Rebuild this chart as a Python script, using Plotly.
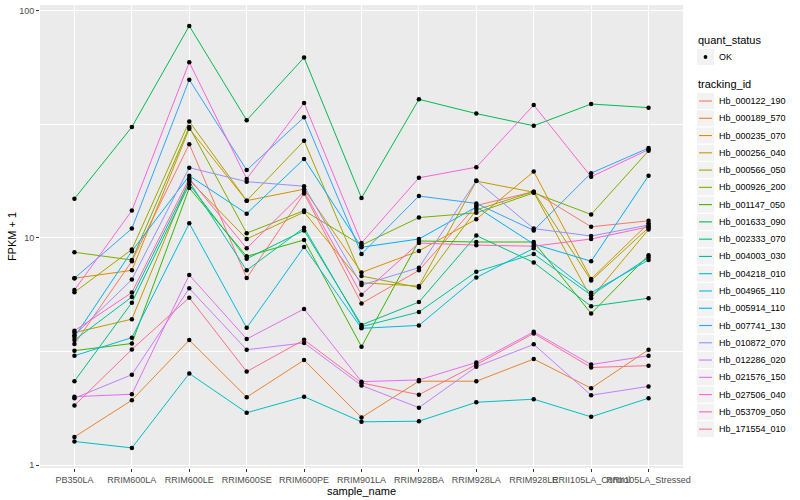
import plotly.graph_objects as go

# ---------------- data ----------------
samples = ["PB350LA", "RRIM600LA", "RRIM600LE", "RRIM600SE", "RRIM600PE",
           "RRIM901LA", "RRIM928BA", "RRIM928LA", "RRIM928LE",
           "RRII105LA_Control", "RRII105LA_Stressed"]

tracking_ids = ["Hb_000122_190", "Hb_000189_570", "Hb_000235_070", "Hb_000256_040",
                "Hb_000566_050", "Hb_000926_200", "Hb_001147_050", "Hb_001633_090",
                "Hb_002333_070", "Hb_004003_030", "Hb_004218_010", "Hb_004965_110",
                "Hb_005914_110", "Hb_007741_130", "Hb_010872_070", "Hb_012286_020",
                "Hb_021576_150", "Hb_027506_040", "Hb_053709_050", "Hb_171554_010"]

colors = ["#F8766D", "#EA8331", "#D89000", "#C09B00", "#A3A500", "#7CAE00", "#39B600",
          "#00BB4E", "#00BF7D", "#00C1A3", "#00BFC4", "#00BAE0", "#00B0F6", "#35A2FF",
          "#9590FF", "#C77CFF", "#E76BF3", "#FA62DB", "#FF62BC", "#FF6C90"]

# FPKM + 1 values, in the order of `samples`
hb_000122_190 = [3.41, 7.9, 25.9, 6.66, 15.7, 5.15, 7.2, 13.9, 16.0, 11.2, 11.9]
hb_000189_570 = [1.33, 1.93, 3.55, 1.99, 2.9, 1.62, 2.34, 2.34, 2.93, 2.18, 3.22]
hb_000235_070 = [6.65, 7.2, 30.3, 14.6, 16.4, 7.05, 8.77, 12.1, 19.6, 6.6, 11.6]
hb_000256_040 = [3.83, 4.39, 18.0, 9.9, 13.0, 6.35, 6.14, 17.8, 15.9, 5.43, 10.9]
hb_000566_050 = [5.77, 8.9, 32.6, 14.6, 26.8, 6.8, 6.05, 13.3, 16.0, 6.5, 11.1]
hb_000926_200 = [8.65, 8.0, 30.8, 10.5, 13.2, 9.3, 12.3, 12.9, 15.8, 12.7, 24.2]
hb_001147_050 = [3.19, 3.43, 16.6, 8.3, 9.8, 3.32, 9.7, 9.6, 9.6, 4.65, 8.4]
hb_001633_090 = [14.9, 30.8, 85.9, 33.0, 62.3, 15.0, 40.8, 35.3, 31.2, 38.9, 37.5]
hb_002333_070 = [2.34, 5.19, 17.2, 8.1, 10.8, 4.14, 5.22, 10.25, 7.8, 5.0, 5.43]
hb_004003_030 = [3.55, 5.5, 17.7, 7.2, 11.1, 4.07, 4.72, 7.1, 8.5, 5.6, 8.2]
hb_004218_010 = [1.27, 1.19, 2.53, 1.70, 2.0, 1.55, 1.56, 1.89, 1.95, 1.63, 1.97]
hb_004965_110 = [3.03, 3.64, 11.6, 4.02, 9.13, 4.0, 4.12, 6.7, 9.0, 5.74, 8.0]
hb_005914_110 = [3.66, 8.75, 18.8, 12.8, 22.3, 9.1, 9.9, 13.7, 9.4, 7.9, 18.8]
hb_007741_130 = [6.65, 11.0, 49.8, 19.9, 34.0, 8.5, 15.3, 14.2, 10.8, 19.3, 24.9]
hb_010872_070 = [3.73, 6.56, 20.4, 17.7, 16.9, 6.2, 7.4, 17.9, 11.0, 10.2, 11.4]
hb_012286_020 = [1.97, 2.5, 6.0, 3.22, 3.45, 2.24, 1.79, 2.71, 3.4, 2.03, 2.22]
hb_021576_150 = [2.0, 2.05, 6.87, 3.59, 4.87, 2.33, 2.37, 2.83, 3.86, 2.77, 3.03]
hb_027506_040 = [5.9, 13.2, 59.4, 18.2, 39.3, 9.5, 18.4, 20.5, 38.5, 18.6, 24.5]
hb_053709_050 = [3.9, 5.75, 18.3, 9.0, 16.0, 5.63, 9.5, 9.3, 9.2, 9.9, 11.2]
hb_171554_010 = [1.83, 3.23, 5.46, 2.58, 3.56, 2.30, 2.04, 2.77, 3.80, 2.69, 2.74]

series_values = [hb_000122_190, hb_000189_570, hb_000235_070, hb_000256_040,
                 hb_000566_050, hb_000926_200, hb_001147_050, hb_001633_090,
                 hb_002333_070, hb_004003_030, hb_004218_010, hb_004965_110,
                 hb_005914_110, hb_007741_130, hb_010872_070, hb_012286_020,
                 hb_021576_150, hb_027506_040, hb_053709_050, hb_171554_010]

quant_status = ["OK"]

y_tick_vals = [1, 10, 100]
y_tick_text = ["1", "10", "100"]

# ---------------- figure ----------------
FONT = "Liberation Sans, Arial, Helvetica, sans-serif"
W, H = 800, 500
L, R, T, B = 40, 683, 5, 468   # panel edges in pixels

fig = go.Figure()

for name, col, vals in zip(tracking_ids, colors, series_values):
    fig.add_trace(go.Scatter(
        x=samples, y=vals, mode="lines", name=name,
        line=dict(color=col, width=1.0), showlegend=False,
        hovertemplate=name + "<br>%{x}: %{y}<extra></extra>"))

for name, vals in zip(tracking_ids, series_values):
    fig.add_trace(go.Scatter(
        x=samples, y=vals, mode="markers", name=name,
        marker=dict(color="black", size=4.5, line=dict(width=0)),
        showlegend=False, hoverinfo="skip"))

# manual ggplot-like legends (paper coordinates derived from pixel layout)
def px_x(px):
    return (px - L) / (R - L)

def px_y(py):
    return (B - py) / (B - T)

shapes = []
annotations = []

# quant_status legend
annotations.append(dict(text="quant_status", xref="paper", yref="paper",
                        x=px_x(696), y=px_y(40.5), xanchor="left", yanchor="middle",
                        showarrow=False, font=dict(family=FONT, size=11, color="black")))
for i, q in enumerate(quant_status):
    cy = 57 + i * 17.27
    shapes.append(dict(type="rect", xref="paper", yref="paper",
                       x0=px_x(697), x1=px_x(714), y0=px_y(cy - 8), y1=px_y(cy + 8),
                       fillcolor="#F2F2F2", line=dict(width=0), layer="above"))
    shapes.append(dict(type="circle", xref="paper", yref="paper",
                       x0=px_x(703.6), x1=px_x(707.4), y0=px_y(cy - 1.9), y1=px_y(cy + 1.9),
                       fillcolor="black", line=dict(width=0), layer="above"))
    annotations.append(dict(text=q, xref="paper", yref="paper",
                            x=px_x(717), y=px_y(cy), xanchor="left", yanchor="middle",
                            showarrow=False, font=dict(family=FONT, size=9, color="black")))

# tracking_id legend
annotations.append(dict(text="tracking_id", xref="paper", yref="paper",
                        x=px_x(696), y=px_y(84.5), xanchor="left", yanchor="middle",
                        showarrow=False, font=dict(family=FONT, size=11, color="black")))
for i, (name, col) in enumerate(zip(tracking_ids, colors)):
    cy = 101 + i * 17.27
    shapes.append(dict(type="rect", xref="paper", yref="paper",
                       x0=px_x(697), x1=px_x(714), y0=px_y(cy - 8), y1=px_y(cy + 8),
                       fillcolor="#F2F2F2", line=dict(width=0), layer="above"))
    shapes.append(dict(type="line", xref="paper", yref="paper",
                       x0=px_x(699), x1=px_x(712), y0=px_y(cy), y1=px_y(cy),
                       line=dict(color=col, width=1.1), layer="above"))
    annotations.append(dict(text=name, xref="paper", yref="paper",
                            x=px_x(717), y=px_y(cy), xanchor="left", yanchor="middle",
                            showarrow=False, font=dict(family=FONT, size=9, color="black")))

fig.update_layout(
    width=W, height=H,
    margin=dict(l=L, r=W - R, t=T, b=H - B, autoexpand=False),
    paper_bgcolor="white", plot_bgcolor="#EBEBEB",
    font=dict(family=FONT, size=9, color="#4D4D4D"),
    showlegend=False,
    shapes=shapes, annotations=annotations,
)

fig.update_xaxes(
    type="category", categoryorder="array", categoryarray=samples,
    range=[-0.6, len(samples) - 0.4],
    showgrid=True, gridcolor="white", gridwidth=1.1,
    zeroline=False, showline=False,
    ticks="outside", ticklen=3, tickcolor="#333333", tickwidth=1,
    tickangle=0, tickfont=dict(family=FONT, size=9, color="#4D4D4D"),
    automargin=False,
    title=dict(text="sample_name", standoff=0,
               font=dict(family=FONT, size=11, color="black")),
)

fig.update_yaxes(
    type="log", range=[-0.013, 2.026],
    tickmode="array", tickvals=y_tick_vals, ticktext=y_tick_text,
    showgrid=True, gridcolor="white", gridwidth=1.1,
    minor=dict(tickvals=[10 ** 0.5, 10 ** 1.5], showgrid=True,
               gridcolor="white", gridwidth=0.55, ticklen=0),
    zeroline=False, showline=False,
    ticks="outside", ticklen=3, tickcolor="#333333", tickwidth=1,
    tickfont=dict(family=FONT, size=9, color="#4D4D4D"),
    automargin=False,
    title=dict(text="FPKM + 1", standoff=0,
               font=dict(family=FONT, size=11, color="black")),
)

fig.write_html("out.html", config={"displayModeBar": False},
               post_script="document.body.style.margin='0';document.body.style.overflow='hidden';")
